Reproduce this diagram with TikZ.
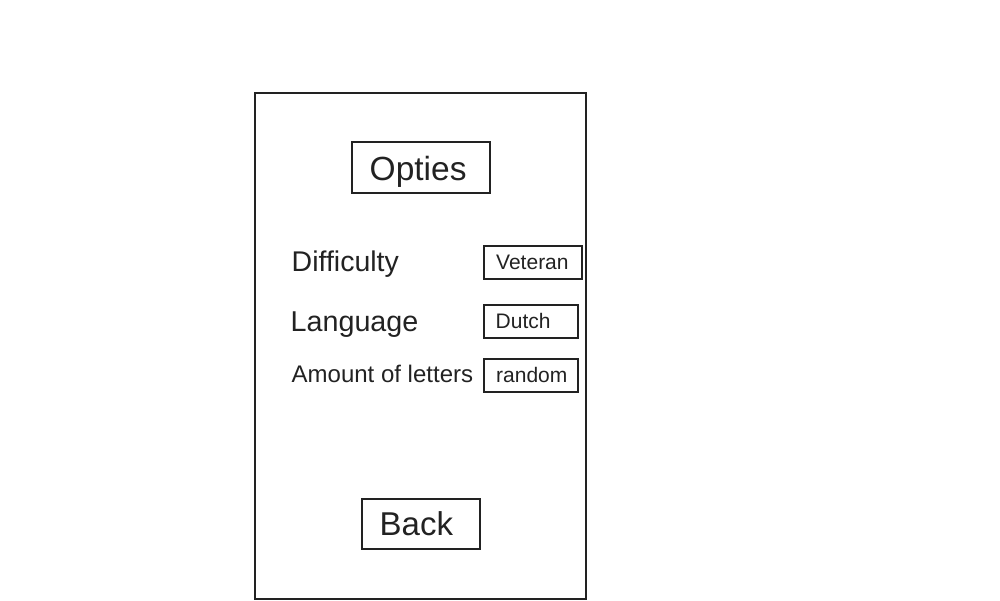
\documentclass[tikz,border=0pt]{standalone}
\usepackage{fontspec}
\setmainfont{Liberation Sans}
\definecolor{ink}{HTML}{222222}
\tikzset{
  box/.style={draw=ink, line width=2pt, rectangle, inner sep=0pt},
  lbl/.style={anchor=base west, inner sep=0pt, text=ink},
}
\begin{document}
\begin{tikzpicture}[x=1pt,y=-1pt]
\useasboundingbox (0,0) rectangle (1000,600);
\node[box, minimum width=330.5pt, minimum height=506pt] (screen) at (420.25,345.5) {};
\node[box, minimum width=138pt, minimum height=51pt] (optbox) at (420.5,167.5) {};
\node[box, minimum width=97.5pt, minimum height=33pt] (vetbox) at (532.75,262) {};
\node[box, minimum width=93.5pt, minimum height=33pt] (dutbox) at (530.75,321) {};
\node[box, minimum width=93.5pt, minimum height=33pt] (rndbox) at (530.75,375) {};
\node[box, minimum width=118pt, minimum height=50pt] (backbox) at (420.5,523.5) {};
\node[lbl, font=\fontsize{33.5}{40}\selectfont] (opt) at (369.5,180) {Opties};
\node[lbl, font=\fontsize{28.5}{34}\selectfont] (diff) at (291.5,271) {Difficulty};
\node[lbl, font=\fontsize{28.7}{34}\selectfont] (lang) at (290.5,331) {Language};
\node[lbl, font=\fontsize{24}{29}\selectfont] (amt) at (291.5,382) {Amount of letters};
\node[lbl, font=\fontsize{21}{25}\selectfont] (vet) at (496,269) {Veteran};
\node[lbl, font=\fontsize{21}{25}\selectfont] (dut) at (495.5,328) {Dutch};
\node[lbl, font=\fontsize{21}{25}\selectfont] (rnd) at (496,382) {random};
\node[lbl, font=\fontsize{33}{39}\selectfont] (back) at (379.5,535) {Back};
\end{tikzpicture}
\end{document}
